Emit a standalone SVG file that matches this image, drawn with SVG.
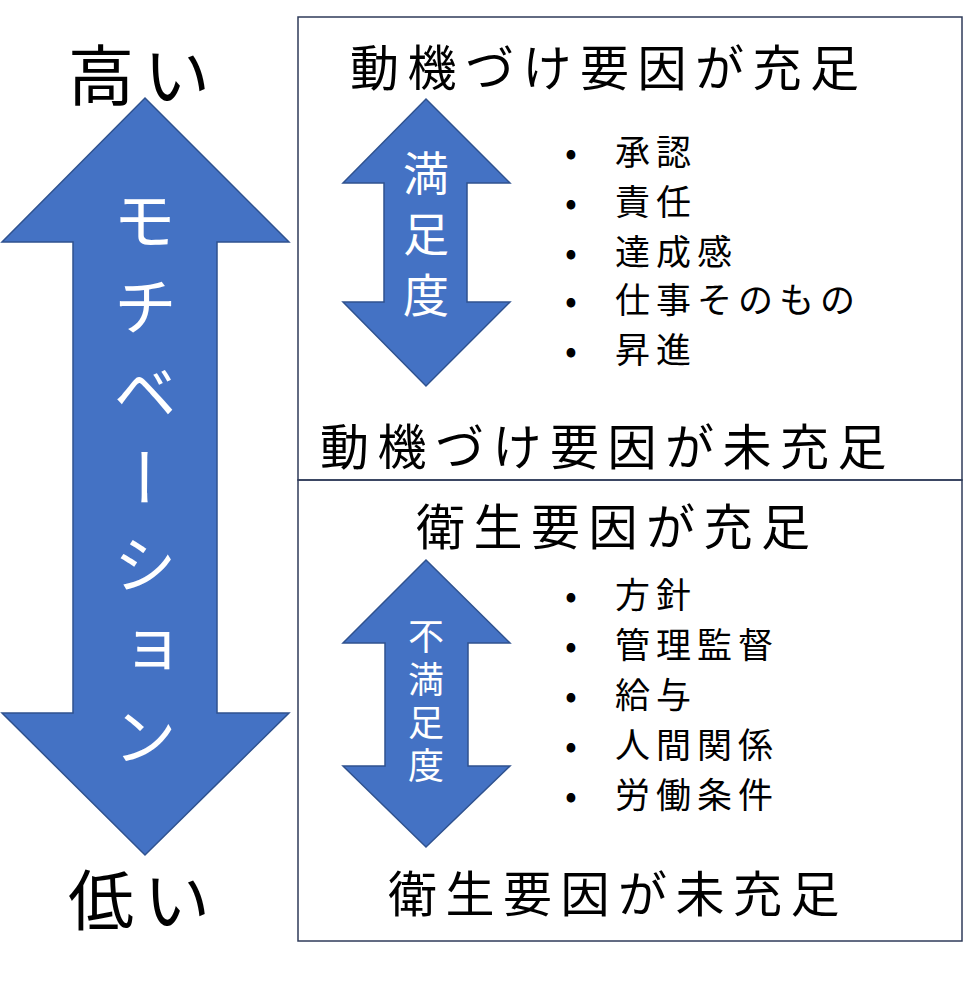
<svg xmlns="http://www.w3.org/2000/svg" width="963" height="999" viewBox="0 0 963 999">
<style>
text{font-family:"Noto Sans CJK JP","Noto Sans CJK SC",sans-serif;fill:#000}
.arr{fill:#4472c4;stroke:#2f528f;stroke-width:1.5}
.v{fill:#fff;writing-mode:vertical-rl}
.box{fill:none;stroke:#2f3b5a;stroke-width:1.5}
.t{font-size:49px;letter-spacing:8.5px}
.b{font-size:35px;letter-spacing:6px}
</style>
<rect width="963" height="999" fill="#fff"/>
<g id="boxes">
<rect class="box" x="298" y="17" width="664" height="463"/>
<rect class="box" x="298" y="480" width="664" height="461"/>
</g>
<g id="motivation">
<path class="arr" d="M145,98 L289,242 L217,242 L217,713 L289,713 L145,855 L2,713 L73,713 L73,242 L2,242 Z"/>
<text class="v" x="145" y="188" style="font-size:64px;letter-spacing:22px">モチベーション</text>
<text x="68" y="100" style="font-size:66px;letter-spacing:10px">高い</text>
<text x="68" y="925" style="font-size:66px;letter-spacing:10px">低い</text>
</g>
<g id="motivators">
<text class="t" x="350" y="86">動機づけ要因が充足</text>
<path class="arr" d="M426,99 L510,183 L467,183 L467,302 L510,302 L426,386 L343,302 L384,302 L384,183 L343,183 Z"/>
<text class="v" x="426" y="150" style="font-size:46px;letter-spacing:15px">満足度</text>
<text class="b" x="565" y="165">•</text><text class="b" x="615" y="165">承認</text>
<text class="b" x="565" y="215">•</text><text class="b" x="615" y="215">責任</text>
<text class="b" x="565" y="265">•</text><text class="b" x="615" y="265">達成感</text>
<text class="b" x="565" y="313">•</text><text class="b" x="615" y="313">仕事そのもの</text>
<text class="b" x="565" y="363">•</text><text class="b" x="615" y="363">昇進</text>
<text class="t" x="320" y="465">動機づけ要因が未充足</text>
</g>
<g id="hygiene">
<text class="t" x="416" y="545">衛生要因が充足</text>
<path class="arr" d="M426,560 L510,643 L468,643 L468,766 L510,766 L426,847 L343,766 L385,766 L385,643 L343,643 Z"/>
<text class="v" x="426" y="618" style="font-size:36px;letter-spacing:7px">不満足度</text>
<text class="b" x="565" y="608">•</text><text class="b" x="615" y="608">方針</text>
<text class="b" x="565" y="658">•</text><text class="b" x="615" y="658">管理監督</text>
<text class="b" x="565" y="708">•</text><text class="b" x="615" y="708">給与</text>
<text class="b" x="565" y="758">•</text><text class="b" x="615" y="758">人間関係</text>
<text class="b" x="565" y="808">•</text><text class="b" x="615" y="808">労働条件</text>
<text class="t" x="388" y="912">衛生要因が未充足</text>
</g>
</svg>
